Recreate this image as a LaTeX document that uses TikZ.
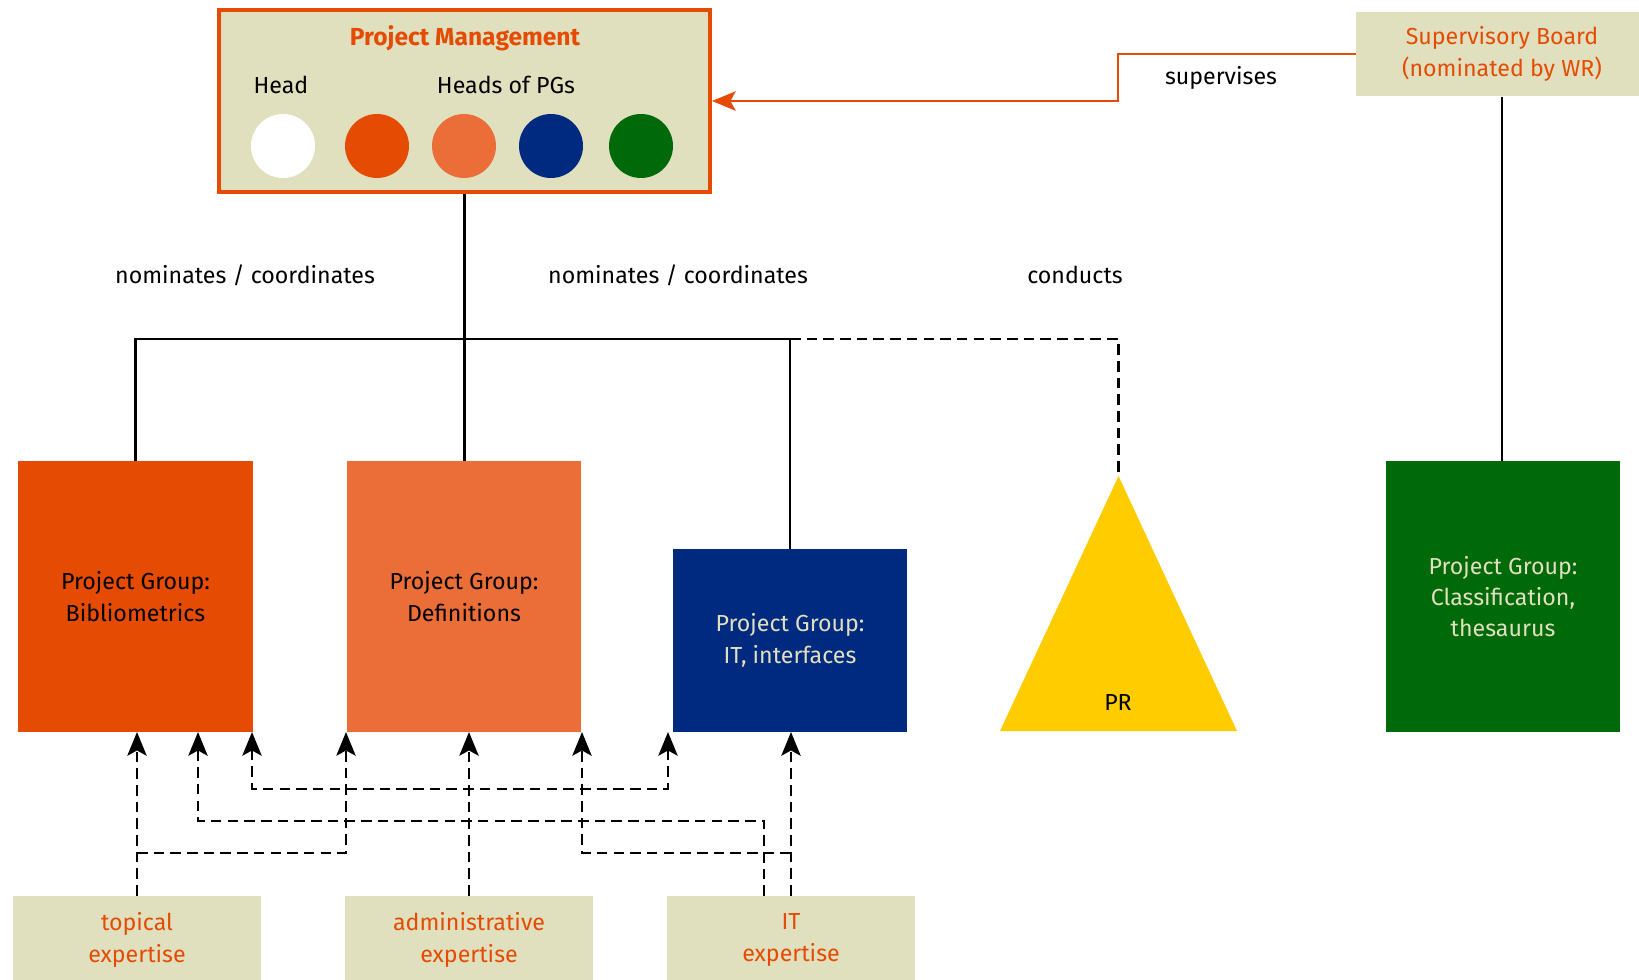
\documentclass[tikz,border=0pt]{standalone}
\usepackage{fontspec}
\setmainfont{Fira Sans}
\usetikzlibrary{arrows.meta}
\definecolor{pmbeige}{HTML}{E0E0BE}
\definecolor{pgred}{HTML}{E54B03}
\definecolor{pgorange}{HTML}{EB6D37}
\definecolor{pgblue}{HTML}{002A7F}
\definecolor{pggreen}{HTML}{00690A}
\definecolor{pryellow}{HTML}{FFCC00}
\begin{document}
\begin{tikzpicture}[x=0.02cm,y=-0.02cm,
  every node/.style={font=\fontsize{13.2pt}{17.8pt}\selectfont,align=center},
  >={Stealth[length=13.5pt,width=11pt,inset=3pt]},
  group/.style={inner sep=0pt,minimum width=4.7cm,minimum height=5.42cm},
  source/.style={fill=pmbeige,text=pgred,inner sep=0pt,minimum width=4.98cm,minimum height=1.76cm},
  dot/.style={circle,inner sep=0pt,minimum size=1.28cm},
  link/.style={line width=1.2pt},
  flow/.style={link,dash pattern=on 6pt off 3.5pt,->}]
\useasboundingbox (0,0) rectangle (1639,980);
% management
\node[draw=pgred,line width=2pt,fill=pmbeige,inner sep=0pt,minimum width=9.83cm,minimum height=3.65cm] (pm) at (464.5,101) {};
\node[text=pgred,font=\fontsize{14pt}{17pt}\selectfont\bfseries] (pmtitle) at (465,38) {Project Management};
\node (head) at (281,85) {Head};
\node (heads) at (506,85) {Heads of PGs};
\foreach \n/\c/\x in {hd/white/283,bib/pgred/377,def/pgorange/464,it/pgblue/551,cls/pggreen/641}
  \node[dot,fill=\c] (dot-\n) at (\x,146) {};
\node[source,minimum width=5.84cm,minimum height=1.69cm] (sup) at (1502,54) {Supervisory Board\\(nominated by WR)};
% project groups
\node[group,fill=pgred] (bib) at (135.5,596.5) {Project Group:\\Bibliometrics};
\node[group,fill=pgorange] (defn) at (464,596.5) {Project Group:\\Definitions};
\node[group,fill=pgblue,text=pmbeige,minimum height=3.66cm] (itg) at (790,640.5) {Project Group:\\IT, interfaces};
\node[group,fill=pggreen,text=pmbeige] (cls) at (1503,596.5) {Project Group:\\Classification,\\thesaurus};
\path (1118.5,476) coordinate (apex) (1000,731) coordinate (prl) (1237,731) coordinate (prr);
\fill[pryellow] (apex)--(prl)--(prr)--cycle;
\node (pr) at (1118,703) {PR};
% expertise
\node[source] (topical) at (137,940) {topical\\expertise};
\node[source] (admin) at (469,940) {administrative\\expertise};
\node[source] (itexp) at (791,940) {IT\\expertise};
% labels
\node (nom1) at (245,275) {nominates / coordinates};
\node (nom2) at (678,275) {nominates / coordinates};
\node (cond) at (1075,275) {conducts};
\node (supv) at (1221,78) {supervises};
\path
(465,339) coordinate (jn)
(1118,101) coordinate (bend)
(137,732) coordinate (bib-a) (198,732) coordinate (bib-b) (252,732) coordinate (bib-c)
(346,732) coordinate (def-a) (469,732) coordinate (def-b) (582,732) coordinate (def-c)
(668,732) coordinate (it-a) (791,732) coordinate (it-b)
(764,896) coordinate (ite-a)
(0,789) coordinate (l1) (0,821) coordinate (l2) (0,853) coordinate (l3)
;
\draw[link] (pm.south) -- (pm.south |- defn.north);
\draw[link] (bib.north) |- (itg.north |- jn) -- (itg.north);
\draw[link,dash pattern=on 6pt off 3.5pt] (itg.north |- jn) -| (apex);
\draw[link] (sup.south) -- (sup.south |- cls.north);
\draw[link,pgred,->] (sup.west) -| (bend) -- (pm.east);
\draw[flow] (topical.north) -- (bib-a);
\draw[flow] (bib-a |- l3) -| (def-a);
\draw[flow] (admin.north) -- (def-b);
\draw[flow,<->] (bib-c) |- (l1 -| it-a) -- (it-a);
\draw[flow] (ite-a) |- (l2 -| bib-b) -- (bib-b);
\draw[flow] (itexp.north) -- (it-b);
\draw[flow] (it-b |- l3) -| (def-c);
\end{tikzpicture}
\end{document}
